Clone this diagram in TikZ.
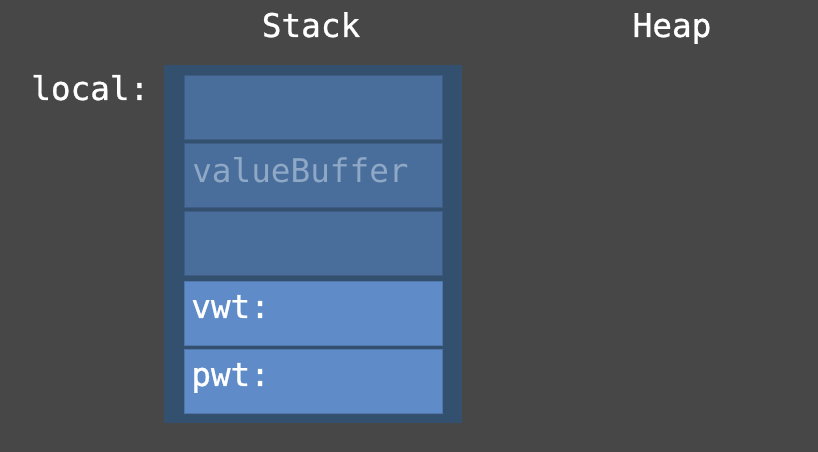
\documentclass[tikz,border=0pt]{standalone}
\usepackage{fontspec}
\newfontfamily\monofnt{DejaVu Sans Mono}
\newfontfamily\monoheavy[FakeBold=0.8]{DejaVu Sans Mono}
\definecolor{bgc}{HTML}{474748}
\definecolor{outerc}{HTML}{34506F}
\definecolor{upperc}{HTML}{4A6E9B}
\definecolor{lowerc}{HTML}{5F8CC8}
\definecolor{dimtxt}{HTML}{8EA8C6}
\begin{document}
\begin{tikzpicture}[x=0.75pt,y=-0.75pt,
  lbl/.style={inner sep=0pt,font=\monoheavy\fontsize{24.5}{28}\selectfont,text=white},
  dimlbl/.style={inner sep=0pt,font=\monofnt\fontsize{24.5}{28}\selectfont,text=dimtxt},
  frame/.style={fill=outerc,draw=none},
  upcell/.style={fill=upperc,draw=upperc!85!black,line width=0.5pt},
  lowcell/.style={fill=lowerc,draw=lowerc!85!black,line width=0.5pt}]
\fill[bgc] (0,0) rectangle (818,452);
\useasboundingbox (0,0) rectangle (818,452);
\draw[frame] (164,65) rectangle (462,423);
\draw[upcell] (184,75) rectangle (442,139);
\draw[upcell] (184,143) rectangle (442,207);
\draw[upcell] (184,211) rectangle (442,275);
\draw[lowcell] (184,281) rectangle (442,345);
\draw[lowcell] (184,349) rectangle (442,413);
\node[lbl,anchor=base] (stack) at (311,37) {Stack};
\node[lbl,anchor=base] (heap) at (672,37) {Heap};
\node[lbl,anchor=base west] (local) at (31,100) {local:};
\node[dimlbl,anchor=base west] (vb) at (192,183) {valueBuffer};
\node[lbl,anchor=base west] (vwt) at (191,318) {vwt:};
\node[lbl,anchor=base west] (pwt) at (191,386) {pwt:};
\end{tikzpicture}
\end{document}
